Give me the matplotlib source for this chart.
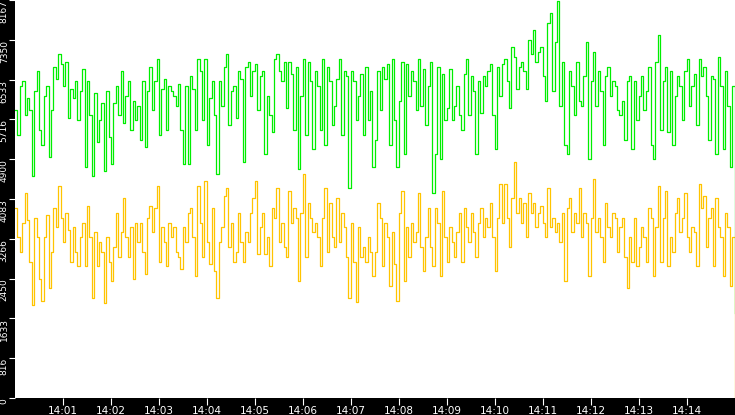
import numpy as np
import matplotlib
matplotlib.use("Agg")
import matplotlib.pyplot as plt

# values, one row per 2.5 minute stretch
green = [
    5900, 5400, 6400, 6500, 5800, 6150, 5900, 4550, 6300, 6700, 5500, 5200, 6200, 6400, 4950, 5900, 6800, 6550, 7050, 6850,
    6400, 6900, 5750, 6350, 6150, 6500, 5700, 6300, 6750, 4750, 6500, 5800, 4550, 6250, 5250, 5700, 6050, 4650, 6300, 5350,
    4800, 6050, 6400, 5800, 6700, 5650, 6200, 6500, 5500, 6100,
    5700, 6000, 5300, 6500, 5150, 6300, 6800, 5900, 6500, 6950, 5400, 6350, 6550, 5500, 6400, 6300, 6200, 6000, 6450, 5500,
    4800, 6400, 4800, 6600, 6350, 5500, 6950, 6700, 5700, 6950, 5200, 6150, 6500, 5800, 4600, 6500, 6000, 6800, 7050, 5600,
    6300, 6400, 5750, 6700, 6550, 4850, 6800, 6900, 6200, 6700,
    6850, 5900, 6600, 6700, 5000, 6200, 5800, 5450, 6950, 7050, 6700, 6500, 6900, 5950, 6900, 6650, 5500, 6800, 4700, 6200,
    6950, 5400, 6900, 6500, 5100, 6700, 6400, 5500, 6950, 5200, 6800, 6500, 5600, 6000, 6550, 6950, 5400, 6700, 6600, 4300,
    6700, 6500, 5700, 6200, 6650, 5400, 6800, 5700, 6300, 4750,
    5300, 6700, 5900, 6800, 6550, 6850, 5200, 6950, 5700, 4750, 6100, 6900, 5000, 6850, 6200, 6700, 6500, 5900, 6950, 6000,
    6750, 5600, 6400, 6900, 4200, 5000, 6800, 4900, 6650, 5700, 5950, 6750, 5700, 6000, 6400, 5800, 5500, 6650, 6950, 5800,
    6600, 6300, 5000, 6500, 5850, 6600, 6400, 6700, 6850, 5800,
    5100, 6800, 6200, 6850, 6950, 6500, 5950, 7200, 7000, 6350, 6800, 6900, 6700, 6350, 7350, 7050, 7550, 6900, 7100, 7200,
    6600, 6100, 7700, 7900, 6300, 7300, 8150, 6000, 6900, 5200, 5000, 6700, 6400, 5800, 6900, 6100, 6000, 6600, 7300, 4900,
    6500, 7100, 6000, 6700, 6300, 5200, 6600, 6800, 6200, 6500,
    6400, 5900, 5800, 6100, 5300, 6500, 6600, 5100, 6500, 5700, 6200, 6600, 5900, 6300, 6800, 5200, 4900, 6900, 7450, 5500,
    6500, 6800, 5450, 6700, 5200, 6200, 6600, 6400, 5700, 6700, 6950, 6000, 6400, 6650, 5600, 6950, 6600, 6800, 6200, 5300,
    6600, 6550, 5000, 7000, 6400, 5100, 6700, 6000, 4750, 6400, 1750,
]

yellow = [
    3900, 3300, 3000, 3600, 4200, 3650, 2800, 1900, 3700, 3300, 2450, 2000, 3300, 3750, 2250, 3000, 3900, 3500, 4350, 3700,
    3200, 3800, 3450, 2800, 3500, 3000, 2700, 3300, 3600, 2700, 3950, 3300, 2050, 3400, 2700, 3200, 3000, 1950, 3300, 2800,
    2400, 3100, 3800, 2900, 3400, 4100, 3300, 2900, 3500, 2450,
    3600, 3200, 3600, 3000, 2550, 3700, 3950, 3400, 3900, 4350, 2800, 3500, 3200, 2700, 3600, 3300, 3500, 3000, 2900, 2650,
    3500, 3200, 3800, 3900, 3300, 2500, 4350, 3600, 2900, 4450, 3200, 2750, 3900, 2600, 2050, 3200, 3500, 4150, 4300, 3100,
    3600, 2800, 3000, 3800, 3200, 2800, 3400, 3200, 3800, 4100,
    4450, 2950, 3500, 3800, 2950, 3300, 2700, 3900, 3700, 4300, 3200, 3600, 3100, 2900, 4250, 3600, 3900, 3700, 2400, 3800,
    4600, 2900, 4000, 3700, 3400, 3600, 3300, 2700, 3700, 4300, 3000, 4000, 3300, 3100, 4100, 3200, 3800, 3500, 2900, 2050,
    3600, 2800, 1980, 3500, 2900, 3100, 2800, 3300, 3000, 2500,
    3000, 4000, 3700, 2700, 3600, 3300, 2300, 3400, 2750, 2000, 3800, 4250, 2400, 3500, 2900, 3600, 3200, 3400, 4200, 3100,
    2600, 3300, 3900, 3100, 2700, 3900, 3600, 2500, 4250, 3300, 2800, 3500, 3200, 2900, 3400, 3800, 2800, 3900, 3500, 3200,
    3800, 3400, 2900, 3600, 3900, 3300, 3700, 3500, 4000, 3300,
    2600, 3700, 4400, 3600, 4400, 3700, 3100, 4100, 4850, 3800, 4100, 3600, 4000, 3300, 4200, 3800, 4000, 3500, 3800, 3950,
    3600, 3300, 4300, 3500, 3700, 3400, 3600, 3200, 3800, 2400, 3900, 4100, 3400, 3800, 3600, 4300, 3300, 3800, 3600, 2500,
    3700, 4500, 3400, 3700, 3300, 2800, 4000, 3500, 3300, 3800,
    3700, 3000, 3500, 3700, 2900, 2250, 3300, 2800, 3700, 2700, 3100, 3500, 3300, 2800, 3900, 3700, 2500, 3500, 4350, 2800,
    3700, 4250, 2700, 3300, 3000, 3800, 4100, 3400, 3700, 4200, 3300, 3000, 3500, 3400, 2700, 4400, 3900, 4150, 3100, 3700,
    3900, 2700, 4100, 3500, 3300, 2500, 3800, 3500, 2300, 3300, 0,
]

ytick_vals = [0, 816.7, 1633.4, 2450.1, 3266.8, 4083.5, 4900.2, 5716.9, 6533.6, 7350.3, 8167]
ytick_labels = ["0", "816", "1633", "2450", "3266", "4083", "4900", "5716", "6533", "7350", "8167"]
xtick_min = list(range(1, 15))
xtick_labels = ["14:%02d" % m for m in xtick_min]

t_g = np.linspace(0, 14.99, len(green))
t_y = np.linspace(0, 14.99, len(yellow))

fig = plt.figure(figsize=(7.35, 4.15), dpi=100, facecolor="black")
ax = fig.add_axes([15 / 735, 17 / 415, 720 / 735, 398 / 415])
ax.set_facecolor("white")

ax.plot(t_y, yellow, color="#ffc400", lw=0.9, drawstyle="steps-post")
ax.plot(t_g, green, color="#00ee00", lw=0.9, drawstyle="steps-post")

ax.set_xlim(0, 15)
ax.set_ylim(0, 8167)
for s in ax.spines.values():
    s.set_visible(False)

ax.set_yticks(ytick_vals)
ax.set_yticklabels(ytick_labels, rotation=90, va="top", ha="right")
ax.tick_params(axis="y", colors="white", labelcolor="white", length=4, width=0.8, pad=0.5, labelsize=6.5)
ax.set_xticks(xtick_min)
ax.set_xticklabels(xtick_labels)
ax.tick_params(axis="x", colors="white", labelcolor="white", length=5, width=0.8, pad=1, labelsize=7.5)

fig.savefig("out.png", dpi=100, facecolor="black")
